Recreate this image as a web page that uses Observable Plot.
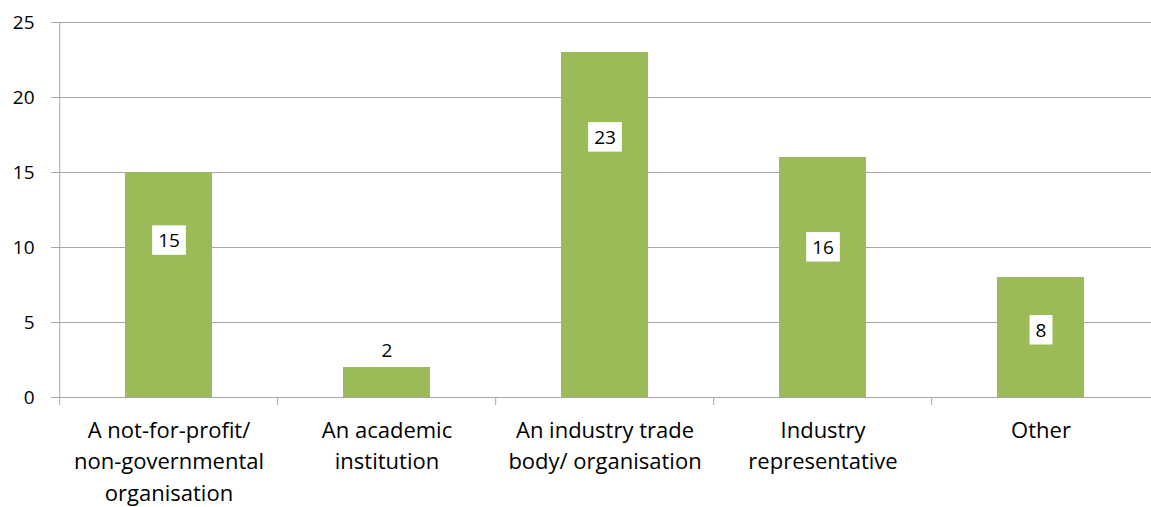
<!DOCTYPE html>
<html>
<head>
<meta charset="utf-8">
<script src="https://cdn.jsdelivr.net/npm/d3@7"></script>
<script src="https://cdn.jsdelivr.net/npm/@observablehq/plot@0.6"></script>
<style>
  html, body { margin: 0; padding: 0; background: white; }
</style>
</head>
<body>
<div id="chart"></div>
<script>
const categories = ["NGO", "Academic", "Trade body", "Industry rep", "Other"];
const categoryLabels = [
  "A not-for-profit/\nnon-governmental\norganisation",
  "An academic\ninstitution",
  "An industry trade\nbody/ organisation",
  "Industry\nrepresentative",
  "Other"
];
const values = [15, 2, 23, 16, 8];
// where each value label sits, in value units (labels were placed by hand in the original)
const labelPositions = [10.45, 3.13, 17.33, 10.0, 4.47];
const yTicks = [0, 5, 10, 15, 20, 25];

const data = categories.map((c, i) => ({
  category: c,
  value: values[i],
  labelAt: labelPositions[i],
  label: categoryLabels[i]
}));
const labelMap = new Map(data.map(d => [d.category, d.label]));

const W = 1151, H = 507, ML = 58, MR = 0;
const step = (W - ML - MR) / categories.length;
const grey = "#a6a6a6";

const chart = Plot.plot({
  width: W,
  height: H,
  marginLeft: ML,
  marginRight: MR,
  marginTop: 22,
  marginBottom: 110,
  x: { domain: categories, paddingInner: 0.6, paddingOuter: 0.3, axis: null },
  y: { domain: [0, 25], axis: null },
  style: { fontFamily: "'Open Sans', sans-serif", background: "white", color: "black" },
  marks: [
    Plot.gridY(yTicks, { stroke: grey, strokeOpacity: 1 }),
    Plot.axisY(yTicks, { tickSize: 7, tickPadding: 17, stroke: grey, strokeOpacity: 1, fill: "black", fontSize: 19, label: null }),
    Plot.barY(data, { x: "category", y: "value", fill: "#9BBB59" }),
    Plot.ruleX([categories[0]], { dx: -step / 2, y1: 25, y2: 0, insetBottom: -8, stroke: grey }),
    Plot.ruleX(categories.slice(1), { dx: -step / 2, y1: 0, y2: 0, insetBottom: -8, stroke: grey }),
    Plot.axisX({ tickSize: 0, tickPadding: 18, fontSize: 22, lineHeight: 1.43, tickFormat: c => labelMap.get(c), label: null, fill: "black" }),
    Plot.text(data, { x: "category", y: "labelAt", text: d => String(d.value), fontSize: 19, fill: "black" })
  ]
});

document.getElementById("chart").append(chart);

// white boxes behind the value labels (the plain text mark group)
const valueStrings = new Set(values.map(String));
chart.querySelectorAll("g").forEach(g => {
  if (g.getAttribute("aria-label") !== "text") return;
  Array.from(g.querySelectorAll("text")).forEach(t => {
    if (!valueStrings.has(t.textContent.trim())) return;
    const b = t.getBBox();
    const r = document.createElementNS("http://www.w3.org/2000/svg", "rect");
    r.setAttribute("x", b.x - 6);
    r.setAttribute("y", b.y - 1.5);
    r.setAttribute("width", b.width + 12);
    r.setAttribute("height", b.height + 3.5);
    r.setAttribute("fill", "white");
    r.setAttribute("stroke", "none");
    const tr = t.getAttribute("transform");
    if (tr) r.setAttribute("transform", tr);
    t.parentNode.insertBefore(r, t);
  });
});
</script>
</body>
</html>
